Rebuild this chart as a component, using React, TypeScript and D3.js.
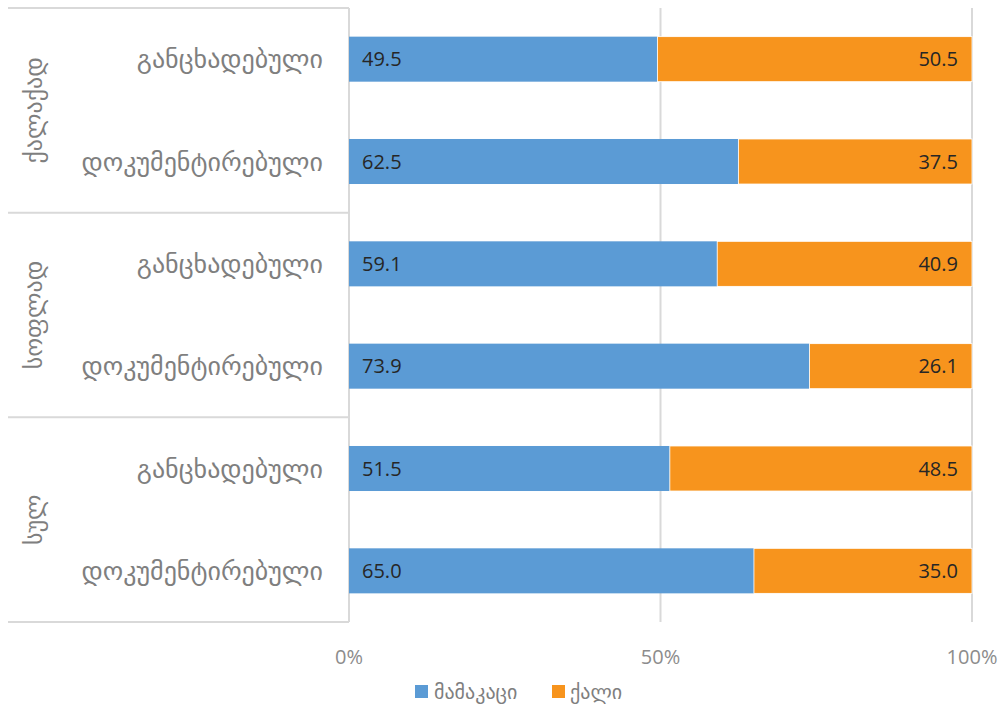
import React from "react";
import * as d3 from "d3";

const groups = ["ქალაქად", "სოფლად", "სულ"];
const categories = ["განცხადებული", "დოკუმენტირებული"];
const maleValues = [49.5, 62.5, 59.1, 73.9, 51.5, 65.0];
const femaleValues = [50.5, 37.5, 40.9, 26.1, 48.5, 35.0];
const seriesNames = ["მამაკაცი", "ქალი"];
const tickValues = [0, 50, 100];

const W = 1001;
const H = 708;
const left = 349;
const right = 972;
const top = 8;
const bottom = 622;
const colors = ["#5B9BD5", "#F7941D"];
const font = "'Open Sans', 'DejaVu Sans', sans-serif";
const gfont = "'DejaVu Sans', sans-serif";

export default function App() {
  const rows = groups.flatMap((g, gi) => categories.map((c, ci) => ({ key: `${gi}-${ci}`, group: g, cat: c, male: maleValues[gi * 2 + ci], female: femaleValues[gi * 2 + ci] })));
  const x = d3.scaleLinear().domain([0, 100]).range([left, right]);
  const y = d3.scaleBand().domain(rows.map((r) => r.key)).range([top, bottom]).paddingInner(0.56).paddingOuter(0.28);
  const groupH = (bottom - top) / groups.length;
  return (
    <svg width={W} height={H} style={{ position: "absolute", left: 0, top: 0, background: "#fff" }}>
      {tickValues.map((t) => (
        <line key={t} x1={x(t)} x2={x(t)} y1={top} y2={bottom} stroke="#D9D9D9" strokeWidth={2} />
      ))}
      {d3.range(groups.length + 1).map((i) => (
        <line key={i} x1={8} x2={left} y1={top + i * groupH} y2={top + i * groupH} stroke="#D9D9D9" strokeWidth={2} />
      ))}
      {rows.map((r) => (
        <g key={r.key}>
          <rect x={x(0)} y={y(r.key)} width={x(r.male) - x(0)} height={y.bandwidth()} fill={colors[0]} />
          <rect x={x(r.male)} y={y(r.key)} width={x(r.male + r.female) - x(r.male)} height={y.bandwidth()} fill={colors[1]} stroke="#fff" strokeWidth={0.8} />
          <text x={x(0) + 13} y={y(r.key)! + y.bandwidth() / 2} dy="0.35em" fontFamily={font} fontSize={20} fill="#262626">{r.male.toFixed(1)}</text>
          <text x={x(100) - 14} y={y(r.key)! + y.bandwidth() / 2} dy="0.35em" textAnchor="end" fontFamily={font} fontSize={20} fill="#262626">{r.female.toFixed(1)}</text>
          <text x={323} y={y(r.key)! + y.bandwidth() / 2} dy="0.35em" textAnchor="end" fontFamily={gfont} fontSize={26} fill="#7F7F7F">{r.cat}</text>
        </g>
      ))}
      {groups.map((g, i) => (
        <text key={g} transform={`translate(34,${top + (i + 0.5) * groupH}) rotate(-90)`} textAnchor="middle" dy="0.35em" fontFamily={gfont} fontSize={24} fill="#7F7F7F">{g}</text>
      ))}
      {tickValues.map((t) => (
        <text key={t} x={x(t)} y={657} dy="0.35em" textAnchor="middle" fontFamily={font} fontSize={20} fill="#8C8C8C">{t}%</text>
      ))}
      <g>
        <rect x={415} y={685} width={13} height={13} fill={colors[0]} />
        <text x={434} y={692} dy="0.35em" fontFamily={gfont} fontSize={20} fill="#7F7F7F">{seriesNames[0]}</text>
        <rect x={552} y={685} width={13} height={13} fill={colors[1]} />
        <text x={570} y={692} dy="0.35em" fontFamily={gfont} fontSize={20} fill="#7F7F7F">{seriesNames[1]}</text>
      </g>
    </svg>
  );
}
